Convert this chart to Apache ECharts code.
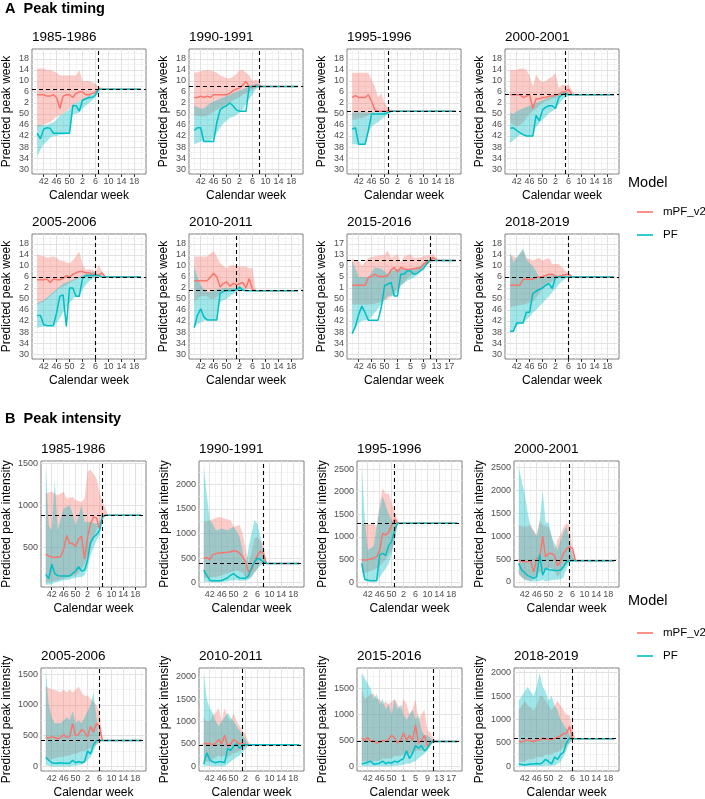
<!DOCTYPE html>
<html><head><meta charset="utf-8">
<script src="https://cdn.jsdelivr.net/npm/echarts@6/dist/echarts.min.js"></script>
<style>html,body{margin:0;padding:0;background:#fff}#c{width:705px;height:799px}</style>
</head><body><div id="c"></div>
<script>
// ---------- categories / ticks ----------
const seasons = ['1985-1986','1990-1991','1995-1996','2000-2001','2005-2006','2010-2011','2015-2016','2018-2019'];
const xTickIdx = [2,6,10,14,18,22,26,30];
const xMinorIdx = [0,4,8,12,16,20,24,28,32];
const xTickLabels52 = ['42','46','50','2','6','10','14','18'];
const xTickLabels53 = ['42','46','50','1','5','9','13','17'];
const yWeekTicks = [30,34,38,42,46,50,54,58,62,66,70];
const yWeekMinor = [32,36,40,44,48,52,56,60,64,68,72];
const yWeekLabels52 = ['30','34','38','42','46','50','2','6','10','14','18'];
const yWeekLabels53 = ['30','34','38','42','46','50','1','5','9','13','17'];
const intensityTicks = [0,500,1000,1500,2000,2500];
const intensityMinor = [250,750,1250,1750,2250];

// ---------- peaks (observed) ----------
const timingPeakIdx = [19,20,11,17,18,13,24,18];
const timingPeakWeek = [59,60,51,57,58,53,64,58];
const intensityPeakIdx = [19,20,11,17,18,13,24,18];
const intensityPeakValue = [880,392,1302,465,420,480,480,590];
const intensityYMin = [30,-88,-110,-110,-75,-105,-90,-100];
const intensityYMax = [1525,2473,2680,2645,1600,2200,1900,2100];

// ---------- A: peak timing (season week index 0 = week 40) ----------
const t85_mPF = [57,57,57,56.5,56.5,57,56,52,56.5,57,57,56,57.5,58,58,57,57,57.5,58,59,59,59,59,59,59,59,59,59,59,59,59,59,59];
const t85_mPF_lo = [45,45.5,46,46.5,47,48,49,49.5,50,51,52,53,54,54.5,55,55.5,56,57,58,58.5,59,59];
const t85_mPF_hi = [66.5,66.5,66.5,66,66,65.5,65,64,64,64,64,64,64,66,62,62,62,61.5,61,60,59.5,59];
const t85_PF = [43,41,44.5,45,44.8,43,43,43,43,43,43,53,53,51,55,55.5,56,56,57,59,59,59,59,59,59,59,59,59,59,59,59,59,59];
const t85_PF_lo = [34.5,37,39,40,41.5,42,42,42.5,42.5,42.8,43,50,50,50.5,52,53,54,55,56,58,59];
const t85_PF_hi = [46,46,46,46,46.5,47,48,49.5,50,51,51.5,53.5,54,54.5,55.5,56,56.5,57,58,59.5,59];

const t90_mPF = [56,56,56.5,56,56.5,56,57,57,57,57,57,57.5,58.5,59,59.5,60.5,61.8,59.8,59.8,60.5,60,60,60,60,60,60,60,60,60,60,60,60,60];
const t90_mPF_lo = [49.5,49.3,49.2,49,49.5,50,50.8,51.5,52.2,53,53.5,54,55,55.5,56.2,57,57.5,58,58.8,59.5,60,60];
const t90_mPF_hi = [65,65.2,65.5,65.8,66,65.8,65.5,65,64,63.5,63,63,63.5,64.5,66,66,65,64,62,62.5,62,60];
const t90_PF = [44,45,45,40,40,40,40,47,51.5,52.5,53,54,53,51.5,51,51,51,60,60,60,60,60,60,60,60,60,60,60,60,60,60,60,60];
const t90_PF_lo = [39,39.5,40,40,40,40,41.5,43,45,46.5,47.5,48.5,49,49.5,50.5,51.5,53.5,55.5,57,59,60,60];
const t90_PF_hi = [53,52.5,52,52,53,54,54.5,55,55.5,56,56.5,57,57.5,58,58.5,59,59.5,60,60.5,61,61,60];

const t95_mPF = [56,56.7,56,56,56,57,54.5,51.5,51,51,51,51,51,51,51,51,51,51,51,51,51,51,51,51,51,51,51,51,51,51,51,51,51];
const t95_mPF_lo = [48,48,48.5,48.5,49,49.5,50,50.5,51,51,51,51,51,51];
const t95_mPF_hi = [65,65,65,65,65,65,62.5,60,56,57.5,54,52.5,51.5,51];
const t95_PF = [44.5,45,39,39,39,44,50,50,50,50,50,50.5,51,51,51,51,51,51,51,51,51,51,51,51,51,51,51,51,51,51,51,51,51];
const t95_PF_lo = [39,39,38.8,38.8,38.8,43,45.5,46.3,47,48,49,50,51];
const t95_PF_hi = [50.5,50.5,50.5,50.5,50.5,50.5,50.5,50.5,50.7,50.8,51,51.2,51];

const t00_mPF = [57,57,57,57,56,56.5,57,52,55.5,55.5,56,56,56.5,56.5,57,57,58,58,59,57,57,57,57,57,57,57,57,57,57,57,57,57,57];
const t00_mPF_lo = [47,46,45.5,46,47,48.5,50,51,52,53,54,54.5,55,55.5,56,56.5,57,57,57.5,57,57];
const t00_mPF_hi = [66,66,66,66.5,66.5,66,64,60,64.3,62.5,61.5,62,63,63.5,65,59.5,60.5,60.5,60.5,58.8,57];
const t00_PF = [44.8,45,44,43.2,42.5,42,42,42,49.5,47.5,51.5,52.5,53,53,52,56,57,57.5,57,57,57,57,57,57,57,57,57,57,57,57,57,57,57];
const t00_PF_lo = [39.5,40.5,41.5,42.4,42.2,42,41.8,41.8,45.4,46.5,48,49,50.3,51,51.8,53.5,55,56,56.5,57];
const t00_PF_hi = [50.5,50,51,51.5,52,52.5,53,53.5,54,54.5,55,55.5,56,56.5,57,57.5,58,58,57.5,57];

const t05_mPF = [57,57,57,57.3,56,57.3,57,57,57.5,58.5,57.8,59,59.5,60,60,59.5,59.5,59,59,58.5,59.5,58,58,58,58,58,58,58,58,58,58,58,58];
const t05_mPF_lo = [48,48.5,49,50,51,52,53,54,54.5,55,56,56.5,57,57.5,58,58,58,58,58,58,58,58];
const t05_mPF_hi = [66,65.8,65.5,65,65.2,65.5,65,64,63.8,63.3,63,64,65.5,67.3,62.5,60.7,60.7,60.7,59.5,62.5,60,58];
const t05_PF = [44,44,40.7,40.3,40.3,40.3,45,51,51.5,40,54,54,51,51,57.5,58.5,58.5,58.5,58.5,58.5,58,58,58,58,58,58,58,58,58,58,58,58,58];
const t05_PF_lo = [39.5,39.8,40,40.2,40.2,40.2,41.3,43,45,46.8,48.5,50,50.8,50.8,53.4,55,56.4,57.2,58];
const t05_PF_hi = [48.5,49,49.5,50.5,51.5,52.5,53.5,54.5,55.5,56,56.5,57,57.5,58,58.5,59,59.5,60,59.5,59,58.5,58];

const t10_mPF = [56.6,56.6,56.6,56.6,56.6,58,59.3,58,54.4,55.6,56.2,54.7,55.6,55.2,55.5,56,54,57.4,53.4,53,53,53,53,53,53,53,53,53,53,53,53,53,53];
const t10_mPF_lo = [49,50,51,51,51,50,50,50.5,52,52.5,53,53,53,53,53.5,54,53.5,53.5,53.2,53];
const t10_mPF_hi = [65.4,65.4,65.4,65.4,65.4,66.5,67.3,65.4,63,62,61.2,62,62.4,62,61.8,61.8,61.8,61.2,61.3,53];
const t10_PF = [39.6,44,46.4,43.5,42.4,42.4,42.4,42.4,52,52.8,53,53,53,53.3,54.3,53.2,53,53,53,53,53,53,53,53,53,53,53,53,53,53,53,53,53];
const t10_PF_lo = [39.5,40.8,41.5,42.1,42.4,42.4,42.4,42.4,48.8,49.5,50,51,51.8,52.5,52.9,53,53,53];
const t10_PF_hi = [62,58,55,53.5,52.5,52.5,53,53.5,53.5,54,54,54,54,54,54.5,54,53.5,53];

const t15_mPF = [55,55,55,55,55,57.8,58.2,59,58.2,58.2,58.2,58.5,60.5,61.5,59.8,61.5,61,60.7,60.8,61,61.2,61.2,62.7,63.5,64,65,64,64,64,64,64,64,64];
const t15_mPF_lo = [48,48,48,48,48,48,48.2,48.3,48.5,49,49.5,50,51,52.3,53.5,54.8,56,57.5,58.5,59,59.8,60.5,61.5,62.3,63,63.5,64,64];
const t15_mPF_hi = [64.5,64.2,64,62,63.5,65,65.2,65.5,65.7,65.8,66,67.6,65,65.5,66.3,63.3,65.5,65.8,66.3,65,65,65.2,65.5,65.8,66,66.3,65,64];
const t15_PF = [37.4,40,44.4,47.4,45,42.3,42.3,42.3,42.3,47,54.8,55.4,56,51.1,51.1,59,59,60.2,60.2,59,59.3,60.2,61,62.7,64,64,64,64,64,64,64,64,64];
const t15_PF_lo = [37.3,39.5,41.3,42,42.3,42.3,43.5,45,46.5,48,49.5,51,51,51,52.5,54.8,55.7,56.6,57.2,57.8,58.4,60,61,62.5,64];
const t15_PF_hi = [64,61,58,58,58,58,59.6,61.5,61.2,61,60,59,60.2,60.5,60.9,60.9,60.9,61,61,61.1,61.5,62,62.7,63.3,64];

const t18_mPF = [55,55,55,55,57.2,57.2,57.2,57.2,57.8,58,58.2,58.5,59,59,58.2,58.2,58.5,58.8,59,58.2,58,58,58,58,58,58,58,58,58,58,58,58,58];
const t18_mPF_lo = [47,47.2,47.5,47.8,48,48.3,48.7,49,50.5,52,53.5,55,55.8,56.5,57,57.5,57.8,58,58.1,58.2,58];
const t18_mPF_hi = [66,65.5,65,66.5,68,65,64.5,63.9,64.5,65,63.9,64.5,64.8,62.7,62.7,62.7,61.5,60.2,59.5,58.5,58];
const t18_PF = [38.3,38.3,41.3,41.3,41.3,45.2,45.2,52,52.8,53.5,54,55,55.6,53.8,58,58,58,58,58,58,58,58,58,58,58,58,58,58,58,58,58,58,58];
const t18_PF_lo = [37.7,38,40,41,41.5,42.5,43.5,45,46,47.3,48.5,49.8,51,52.4,53.8,55.2,56.5,57.3,58];
const t18_PF_hi = [67,63.3,65,66.5,68.2,64.5,63,62,60,58,58,58.2,58.5,59,58.7,58.2,58.2,58.2,58];

// ---------- B: peak intensity ----------
const i85_mPF = [420,400,385,380,385,390,480,640,545,545,510,600,630,360,620,780,860,850,720,860,880,880,880,880,880,880,880,880,880,880,880,880,880];
const i85_mPF_lo = [80,80,90,100,110,120,130,140,150,160,170,200,250,300,400,500,600,700,780,850,880,880];
const i85_mPF_hi = [1140,1150,1160,1140,1120,1140,1160,1080,1090,1100,1060,1050,1040,1080,1400,1420,1370,1320,1160,1040,960,880];
const i85_PF = [180,130,300,190,165,160,160,160,160,190,220,270,220,230,350,560,620,650,700,870,880,880,880,880,880,880,880,880,880,880,880,880,880];
const i85_PF_lo = [60,60,60,80,90,100,110,110,120,130,140,150,150,170,250,400,500,580,640,820,880];
const i85_PF_hi = [1460,760,700,1300,700,840,960,980,1000,900,760,880,1000,800,800,800,790,780,800,880,880];

const i90_mPF = [507,510,470,570,590,605,610,615,620,630,650,640,600,530,430,220,260,420,560,640,595,392,392,392,392,392,392,392,392,392,392,392,392];
const i90_mPF_lo = [100,100,100,110,120,130,150,170,190,210,230,250,230,200,100,80,120,200,300,400,400,392];
const i90_mPF_hi = [1237,1250,1270,1290,1310,1338,1320,1300,1285,1270,1135,1150,1170,1000,700,400,600,900,930,850,800,400];
const i90_PF = [257,150,50,40,40,40,45,70,100,150,185,130,95,90,88,140,300,420,500,470,430,392,392,392,392,392,392,392,392,392,392,392,392];
const i90_PF_lo = [20,20,10,10,10,10,15,20,30,40,50,50,40,40,40,60,120,200,280,350,380,392];
const i90_PF_hi = [2350,1800,1270,1200,1068,1080,1100,1080,1068,1100,1135,1050,930,660,330,700,1000,1270,1200,930,600,392];

const i95_mPF = [488,490,495,510,530,560,700,1080,1040,1100,1260,1400,1302,1302,1302,1302,1302,1302,1302,1302,1302,1302,1302,1302,1302,1302,1302,1302,1302,1302,1302,1302,1302];
const i95_mPF_lo = [200,200,220,250,280,300,350,420,500,600,700,900,1302,1302];
const i95_mPF_hi = [1300,1300,1290,1285,1280,1230,1750,2080,1950,1970,1750,1600,1340,1302];
const i95_PF = [414,60,40,30,30,30,600,636,590,800,900,1150,1302,1302,1302,1302,1302,1302,1302,1302,1302,1302,1302,1302,1302,1302,1302,1302,1302,1302,1302,1302,1302];
const i95_PF_lo = [300,30,10,10,10,20,100,200,300,400,600,900,1302];
const i95_PF_hi = [2560,1400,710,750,800,1230,1600,1900,1700,1500,1375,1300,1302];

const i00_mPF = [480,450,443,450,460,220,516,516,1000,550,625,625,580,350,450,625,720,770,740,465,465,465,465,465,465,465,465,465,465,465,465,465,465];
const i00_mPF_lo = [150,100,50,50,20,100,150,200,250,280,300,300,250,100,200,300,400,450,465,465];
const i00_mPF_hi = [1243,1220,1200,1220,1243,1130,1025,1350,1243,1220,1200,1000,698,910,1050,1200,1280,1243,700,465];
const i00_PF = [407,260,200,140,110,80,116,600,150,300,270,262,250,250,262,330,443,465,465,465,465,465,465,465,465,465,465,465,465,465,465,465,465];
const i00_PF_lo = [200,100,50,20,10,10,10,20,50,10,30,40,50,50,60,100,300,420,450,465];
const i00_PF_hi = [2515,2200,1934,1500,1200,1100,1000,1300,2000,1300,1300,1000,840,700,900,1100,1207,920,550,465];

const i05_mPF = [470,460,480,470,450,470,520,470,480,700,500,520,600,560,480,650,560,700,650,420,420,420,420,420,420,420,420,420,420,420,420,420,420];
const i05_mPF_lo = [100,100,120,130,150,150,160,170,180,200,200,220,250,250,280,300,320,350,380,420];
const i05_mPF_hi = [1300,1280,1250,1250,1220,1200,1250,1200,1250,1200,1250,1300,1200,1150,1150,1100,1050,1000,900,420];
const i05_PF = [150,100,60,50,50,60,50,50,50,100,60,80,60,80,250,200,350,420,420,420,420,420,420,420,420,420,420,420,420,420,420,420,420];
const i05_PF_lo = [20,10,0,0,0,0,0,0,0,10,10,20,30,50,100,150,250,350,420];
const i05_PF_hi = [1550,1000,800,700,700,700,750,800,750,900,700,750,700,800,900,1000,1200,800,420];

const i10_mPF = [520,500,510,480,520,600,500,700,450,500,600,550,500,520,480,480,480,480,480,480,480,480,480,480,480,480,480,480,480,480,480,480,480];
const i10_mPF_lo = [100,100,100,150,200,250,200,250,200,250,300,300,350,400,450,470,480];
const i10_mPF_hi = [1100,1000,1000,1150,1200,1300,1000,1300,1100,1000,1200,1000,900,800,700,550,480];
const i10_PF = [50,300,150,100,80,100,100,80,400,350,450,500,400,480,480,480,480,480,480,480,480,480,480,480,480,480,480,480,480,480,480,480,480];
const i10_PF_lo = [0,10,10,0,0,0,0,0,50,100,150,200,250,300,400,450,480];
const i10_PF_hi = [2100,1500,1300,1200,1000,900,1000,1100,1200,1100,1000,900,800,700,600,500,480];

const i15_mPF = [550,500,560,480,500,450,470,500,480,520,600,550,450,500,650,500,600,500,800,450,500,600,400,450,480,480,480,480,480,480,480,480,480];
const i15_mPF_lo = [100,100,100,100,100,100,120,150,150,150,150,200,200,200,250,200,250,250,300,300,300,350,350,400,450,480];
const i15_mPF_hi = [1500,1300,1350,1400,1400,1300,1300,1200,1250,1200,1250,1300,1200,1100,1300,1200,1000,1100,1300,900,1000,1100,700,650,550,480];
const i15_PF = [50,60,80,100,40,50,60,100,50,80,60,100,80,120,150,300,150,250,400,350,400,300,350,450,480,480,480,480,480,480,480,480,480];
const i15_PF_lo = [0,0,0,0,0,0,0,0,0,0,0,10,10,20,30,50,50,80,100,150,200,250,300,400,480];
const i15_PF_hi = [1800,1700,1600,1500,1300,1400,1200,1300,1100,1200,1000,1300,1100,1200,1000,900,1000,1100,900,1000,700,600,600,550,480];

const i18_mPF = [540,520,550,560,540,530,560,560,600,580,580,570,600,620,650,700,700,850,600,590,590,590,590,590,590,590,590,590,590,590,590,590,590];
const i18_mPF_lo = [100,100,100,150,150,150,200,200,200,250,250,250,300,300,350,400,450,500,550,590];
const i18_mPF_hi = [1200,1300,1400,1300,1250,1200,1300,1500,1500,1400,1300,1200,1300,1400,1300,1200,1100,1100,800,590];
const i18_PF = [50,40,30,40,50,50,60,50,80,150,100,50,200,150,250,300,500,600,590,590,590,590,590,590,590,590,590,590,590,590,590,590,590];
const i18_PF_lo = [0,0,0,0,0,0,0,0,0,10,10,10,20,50,100,200,350,500,590];
const i18_PF_hi = [1400,1500,1600,1700,1600,1500,1700,2000,1700,1600,1400,1500,1300,1200,1000,900,800,700,590];

const timingSets = [
  [t85_mPF,t85_mPF_lo,t85_mPF_hi,t85_PF,t85_PF_lo,t85_PF_hi],
  [t90_mPF,t90_mPF_lo,t90_mPF_hi,t90_PF,t90_PF_lo,t90_PF_hi],
  [t95_mPF,t95_mPF_lo,t95_mPF_hi,t95_PF,t95_PF_lo,t95_PF_hi],
  [t00_mPF,t00_mPF_lo,t00_mPF_hi,t00_PF,t00_PF_lo,t00_PF_hi],
  [t05_mPF,t05_mPF_lo,t05_mPF_hi,t05_PF,t05_PF_lo,t05_PF_hi],
  [t10_mPF,t10_mPF_lo,t10_mPF_hi,t10_PF,t10_PF_lo,t10_PF_hi],
  [t15_mPF,t15_mPF_lo,t15_mPF_hi,t15_PF,t15_PF_lo,t15_PF_hi],
  [t18_mPF,t18_mPF_lo,t18_mPF_hi,t18_PF,t18_PF_lo,t18_PF_hi]];
const intensitySets = [
  [i85_mPF,i85_mPF_lo,i85_mPF_hi,i85_PF,i85_PF_lo,i85_PF_hi],
  [i90_mPF,i90_mPF_lo,i90_mPF_hi,i90_PF,i90_PF_lo,i90_PF_hi],
  [i95_mPF,i95_mPF_lo,i95_mPF_hi,i95_PF,i95_PF_lo,i95_PF_hi],
  [i00_mPF,i00_mPF_lo,i00_mPF_hi,i00_PF,i00_PF_lo,i00_PF_hi],
  [i05_mPF,i05_mPF_lo,i05_mPF_hi,i05_PF,i05_PF_lo,i05_PF_hi],
  [i10_mPF,i10_mPF_lo,i10_mPF_hi,i10_PF,i10_PF_lo,i10_PF_hi],
  [i15_mPF,i15_mPF_lo,i15_mPF_hi,i15_PF,i15_PF_lo,i15_PF_hi],
  [i18_mPF,i18_mPF_lo,i18_mPF_hi,i18_PF,i18_PF_lo,i18_PF_hi]];

// ---------- layout & style ----------
const FONT = '"Liberation Sans", Arial, sans-serif';
const RED = '#F8766D', CYAN = '#00BFC4';
const RED_F = 'rgba(248,118,109,0.37)', CYAN_F = 'rgba(0,191,196,0.37)';
const tCols = [32,189,347,505], tW = 114, tRows = [49,234], tH = 125;
const iCols = [41,199,357,514], iW = 105, iRows = [461,668], iHs = [126,103];

const chart = echarts.init(document.getElementById('c'), null, {renderer:'canvas', width:705, height:799});
const grids = [], xAxes = [], yAxes = [], series = [], titles = [];

function bandSeries(p, lo, hi, fill) {
  return {
    type:'custom', xAxisIndex:p, yAxisIndex:p, z:2, silent:true, animation:false,
    data: lo.map((v,i) => [i, v, hi[i]]),
    encode: {x:0, y:[1,2]},
    renderItem: function (params, api) {
      if (params.dataIndexInside !== 0) return null;
      const n = params.dataInsideLength, top = [], bot = [];
      for (let k = 0; k < n; k++) {
        const x = api.value(0, k);
        top.push(api.coord([x, api.value(2, k)]));
        bot.push(api.coord([x, api.value(1, k)]));
      }
      return {type:'polygon', shape:{points: top.concat(bot.reverse())}, style:{fill: fill}};
    }
  };
}
function lineSeries(p, name, arr, color) {
  return {type:'line', name: name, xAxisIndex:p, yAxisIndex:p, z:3, silent:true, animation:false,
    data: arr.map((v,i) => [i, v]), symbol:'none', showSymbol:false,
    lineStyle:{color: color, width:1.5}, itemStyle:{color: color}};
}
function gridLineSeries(p, xMaj, xMin, yMaj, yMin) {
  const maj = {color:'#e2e2e2', width:1, type:'solid'};
  const mn = {color:'#efefef', width:0.7, type:'solid'};
  const d = [];
  xMin.forEach(v => d.push({xAxis:v, lineStyle:mn}));
  yMin.forEach(v => d.push({yAxis:v, lineStyle:mn}));
  xMaj.forEach(v => d.push({xAxis:v, lineStyle:maj}));
  yMaj.forEach(v => d.push({yAxis:v, lineStyle:maj}));
  return {type:'line', xAxisIndex:p, yAxisIndex:p, data:[[-100,-1e7]], symbol:'none', silent:true,
    lineStyle:{opacity:0}, animation:false,
    markLine:{z:1, silent:true, symbol:['none','none'], label:{show:false}, animation:false, data:d}};
}
function peakSeries(p, px, py) {
  return {type:'line', xAxisIndex:p, yAxisIndex:p, data:[[-100,-1e7]], symbol:'none', silent:true,
    lineStyle:{opacity:0}, animation:false,
    markLine:{z:6, silent:true, symbol:['none','none'], label:{show:false}, animation:false,
      lineStyle:{type:[4,3], color:'#000', width:1.1},
      data:[{yAxis: py}, {xAxis: px}]}};
}

const axisLabelStyle = {fontSize:9, color:'#4d4d4d', fontFamily:FONT};
const axisNameStyle = {fontSize:12, color:'#000', fontFamily:FONT};

for (let p = 0; p < 16; p++) {
  const isT = p < 8, k = p % 8, row = Math.floor(k / 4), col = k % 4;
  const left = isT ? tCols[col] : iCols[col];
  const top = isT ? tRows[row] : iRows[row];
  const w = isT ? tW : iW, h = isT ? tH : iHs[row];
  grids.push({left:left, top:top, width:w, height:h, show:true, backgroundColor:'#fff',
    borderColor:'#7f7f7f', borderWidth:1, containLabel:false, outerBoundsMode:'none'});
  titles.push({text: seasons[k], left: left, top: top - 20, padding: 0,
    textStyle:{fontSize:13.5, fontWeight:'normal', color:'#000', fontFamily:FONT, lineHeight:16}});
  const xl = (k === 6) ? xTickLabels53 : xTickLabels52;
  xAxes.push({gridIndex:p, type:'value', min:-1.6, max:33.6,
    splitLine:{show:false}, axisLine:{show:false},
    axisTick:{show:true, customValues:xTickIdx, length:3, lineStyle:{color:'#333', width:1}},
    axisLabel:Object.assign({customValues:xTickIdx, margin:3, formatter: v => xl[xTickIdx.indexOf(v)]}, axisLabelStyle),
    name:'Calendar week', nameLocation:'middle', nameGap:16, nameMoveOverlap:false, nameTextStyle:axisNameStyle});
  let yTicks, yMin, yMax, yMinor, yLab;
  if (isT) {
    yTicks = yWeekTicks; yMinor = yWeekMinor; yMin = 28.2; yMax = 73.6;
    const yl = (k === 6) ? yWeekLabels53 : yWeekLabels52;
    yLab = v => yl[yWeekTicks.indexOf(v)];
  } else {
    yMin = intensityYMin[k]; yMax = intensityYMax[k];
    yTicks = intensityTicks.filter(v => v >= yMin && v <= yMax);
    yMinor = intensityMinor.filter(v => v >= yMin && v <= yMax);
    yLab = v => String(v);
  }
  yAxes.push({gridIndex:p, type:'value', min:yMin, max:yMax,
    splitLine:{show:false}, axisLine:{show:false},
    axisTick:{show:true, customValues:yTicks, length:3, lineStyle:{color:'#333', width:1}},
    axisLabel:Object.assign({customValues:yTicks, margin:3, formatter: yLab}, axisLabelStyle),
    name: isT ? 'Predicted peak week' : 'Predicted peak intensity',
    nameLocation:'middle', nameGap: isT ? 19 : 28, nameMoveOverlap:false, nameTextStyle:axisNameStyle});
  const set = isT ? timingSets[k] : intensitySets[k];
  series.push(gridLineSeries(p, xTickIdx, xMinorIdx, yTicks, yMinor));
  series.push(bandSeries(p, set[1], set[2], RED_F));
  series.push(bandSeries(p, set[4], set[5], CYAN_F));
  series.push(lineSeries(p, 'mPF_v2', set[0], RED));
  series.push(lineSeries(p, 'PF', set[3], CYAN));
  series.push(isT ? peakSeries(p, timingPeakIdx[k], timingPeakWeek[k]) : peakSeries(p, intensityPeakIdx[k], intensityPeakValue[k]));
}

titles.push({text:'A  Peak timing', left:5, top:0, padding:0, textStyle:{fontSize:14.5, fontWeight:'bold', color:'#000', fontFamily:FONT, lineHeight:17}});
titles.push({text:'B  Peak intensity', left:5, top:410, padding:0, textStyle:{fontSize:14.5, fontWeight:'bold', color:'#000', fontFamily:FONT, lineHeight:17}});
titles.push({text:'Model', left:628, top:174, padding:0, textStyle:{fontSize:14.5, fontWeight:'normal', color:'#000', fontFamily:FONT, lineHeight:17}});
titles.push({text:'Model', left:628, top:592, padding:0, textStyle:{fontSize:14.5, fontWeight:'normal', color:'#000', fontFamily:FONT, lineHeight:17}});

const legendBase = {data:['mPF_v2','PF'], orient:'vertical', left:632, icon:'rect', itemWidth:16, itemHeight:1.6, itemGap:9,
  selectedMode:false, textStyle:{fontSize:11.5, color:'#000', fontFamily:FONT, lineHeight:14, padding:[0,0,0,5]}};

chart.setOption({
  animation:false,
  backgroundColor:'#fff',
  title: titles,
  legend: [Object.assign({top:200}, legendBase), Object.assign({top:621}, legendBase)],
  grid: grids, xAxis: xAxes, yAxis: yAxes, series: series
});
</script>
</body></html>
